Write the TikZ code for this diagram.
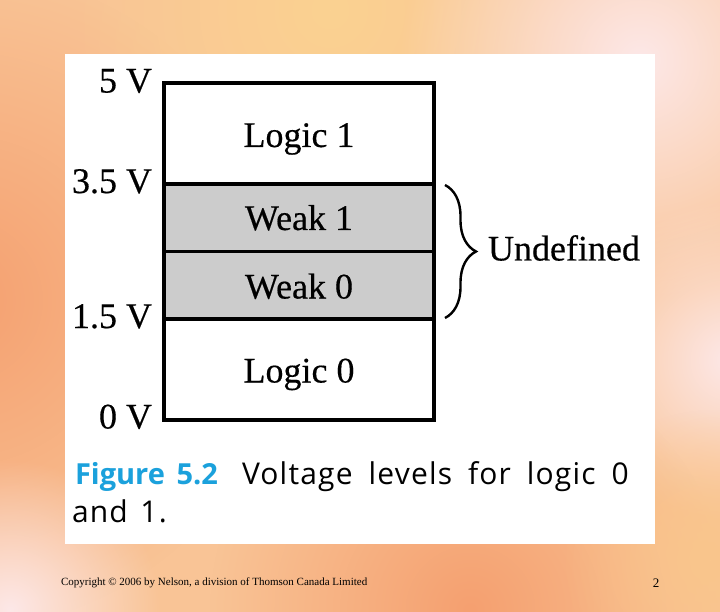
\documentclass[tikz,border=0pt]{standalone}
\usepackage{fontspec}
\setmainfont{Liberation Serif}
\newfontfamily\lvlserif{Liberation Serif}[FakeBold=0.4]
\newfontfamily\capfont{Open Sans}[LetterSpace=4]
\newfontfamily\figfont{Open Sans}
\usetikzlibrary{decorations.pathreplacing,fadings}
\definecolor{bgbase}{RGB}{249,196,150}
\definecolor{bgorange}{RGB}{245,160,112}
\definecolor{bgyellow}{RGB}{251,210,145}
\definecolor{bgpink}{RGB}{253,232,232}
\definecolor{bgpeach}{RGB}{250,198,140}
\definecolor{weakgray}{RGB}{204,204,204}
\definecolor{figblue}{RGB}{27,161,220}
\tikzfading[name=softspot,inner color=transparent!0,outer color=transparent!100]
\newcommand{\lvlfont}{\lvlserif\fontsize{36pt}{40pt}\selectfont}
\newcommand{\capsize}{\fontsize{30pt}{36pt}\selectfont}

\begin{document}
\begin{tikzpicture}[x=1pt,y=-1pt,line join=miter,
  every node/.style={inner sep=0pt,outer sep=0pt}]
  % canvas = source 720x612 px, 1px = 1pt, y downwards
  \path[use as bounding box] (0,0) rectangle (720,612);
  % ---- slide background: base tone plus soft spots ----
  \fill[bgbase] (0,0) rectangle (720,612);
  \fill[bgorange,path fading=softspot] (-40,300) circle[radius=330];
  \fill[bgyellow,path fading=softspot] (330,10) circle[radius=260];
  \fill[bgpink,path fading=softspot] (640,60) circle[radius=240];
  \fill[bgpink,path fading=softspot] (730,360) circle[radius=160];
  \fill[bgorange,path fading=softspot] (470,610) circle[radius=260];
  \fill[bgpink,path fading=softspot] (10,610) circle[radius=150];
  \fill[bgpeach,path fading=softspot] (710,560) circle[radius=150];
  % ---- white panel ----
  \fill[white] (65,54) rectangle (655,544);
  % ---- level box: corners and the two thresholds ----
  \coordinate (TL)  at (164, 83);  % 5 V
  \coordinate (BR)  at (434,420);  % 0 V
  \coordinate (H35) at (164,184);  % 3.5 V
  \coordinate (E35) at (434,184);
  \coordinate (HM)  at (164,252);  % weak 1 / weak 0
  \coordinate (EM)  at (434,252);
  \coordinate (H15) at (164,319);  % 1.5 V
  \coordinate (E15) at (434,319);
  \fill[weakgray] (H35) rectangle (E15);
  \draw[line width=3.6pt] (TL) rectangle (BR);
  \draw[line width=3.6pt] (H35) -- (E35);
  \draw[line width=3pt] (HM) -- (EM);
  \draw[line width=3.6pt] (H15) -- (E15);
  % ---- voltage labels, right edge x=152 ----
  \node[anchor=base east,font=\lvlfont] (v5)  at (152, 92.5) {5 V};
  \node[anchor=base east,font=\lvlfont] (v35) at (152,193)   {3.5 V};
  \node[anchor=base east,font=\lvlfont] (v15) at (152,328)   {1.5 V};
  \node[anchor=base east,font=\lvlfont] (v0)  at (152,428.5) {0 V};
  % ---- band names, centred on the box ----
  \node[anchor=base,font=\lvlfont] (l1) at (299,147)   {Logic 1};
  \node[anchor=base,font=\lvlfont] (w1) at (299,230)   {Weak 1};
  \node[anchor=base,font=\lvlfont] (w0) at (299,298.5) {Weak 0};
  \node[anchor=base,font=\lvlfont] (l0) at (299,382.5) {Logic 0};
  % ---- brace over the undefined range ----
  \coordinate (BrT) at (445,185);
  \coordinate (BrB) at (445,318);
  \draw[line width=2.4pt,decorate,decoration={brace,amplitude=31pt}] (BrT) -- (BrB);
  \node[anchor=base west,font=\lvlfont] (und) at (488,260.5) {Undefined};
  % ---- caption (wide word gaps as in the source) ----
  \node[anchor=base west,font=\figfont\fontsize{29pt}{36pt}\selectfont\bfseries,text=figblue] (fig) at (75,484) {Figure\hspace{0.4em}5.2};
  \node[anchor=base west,font=\capfont\capsize,
    execute at begin node={\spaceskip=0.53em\relax}] (cap1) at (242,484) {Voltage levels for logic 0};
  \node[anchor=base west,font=\capfont\capsize,
    execute at begin node={\spaceskip=0.42em\relax}] (cap2) at (72,522) {and 1.};
  % ---- footer ----
  \node[anchor=base west,font=\fontsize{11pt}{13pt}\selectfont] (copy) at (61,585.5)
    {Copyright © 2006 by Nelson, a division of Thomson Canada Limited};
  \node[anchor=base,font=\fontsize{13pt}{15pt}\selectfont] (pg) at (656,587) {2};
\end{tikzpicture}
\end{document}
